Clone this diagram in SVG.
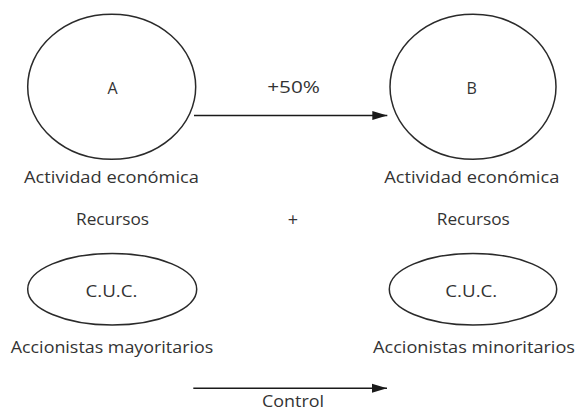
<svg xmlns="http://www.w3.org/2000/svg" width="575" height="412" viewBox="0 0 575 412">
<defs>
<style>
.shape{fill:none;stroke:#2a2a2a;stroke-width:1.5}
.lbl{font-family:"Open Sans","Liberation Sans",sans-serif;font-size:16px;fill:#333;text-anchor:middle}
.conn{stroke:#1a1a1a;stroke-width:1.6;fill:none}
</style>
<marker id="arr" markerUnits="userSpaceOnUse" markerWidth="16" markerHeight="10" refX="15" refY="5" orient="auto">
<path d="M0,0.5 L15,5 L0,9.5 Z" fill="#1a1a1a"/>
</marker>
</defs>
<rect width="575" height="412" fill="#fff"/>
<g id="nodeA">
<ellipse class="shape" cx="111.7" cy="86.8" rx="84" ry="72.5"/>
<text class="lbl" x="112.5" y="94">A</text>
<text class="lbl" x="111.5" y="183" textLength="175" lengthAdjust="spacingAndGlyphs">Actividad económica</text>
</g>
<g id="nodeB">
<ellipse class="shape" cx="473" cy="86.8" rx="83" ry="72.5"/>
<text class="lbl" x="471.7" y="94">B</text>
<text class="lbl" x="471.8" y="183" textLength="175" lengthAdjust="spacingAndGlyphs">Actividad económica</text>
</g>
<g id="recursosA">
<text class="lbl" x="112.5" y="225" textLength="73" lengthAdjust="spacingAndGlyphs">Recursos</text>
</g>
<g id="plus">
<text class="lbl" x="293" y="226" style="font-size:18px">+</text>
</g>
<g id="recursosB">
<text class="lbl" x="473.3" y="225" textLength="73" lengthAdjust="spacingAndGlyphs">Recursos</text>
</g>
<g id="cucA">
<ellipse class="shape" cx="112.2" cy="289.2" rx="84.5" ry="35.8"/>
<text class="lbl" x="111.5" y="296.5" textLength="52" lengthAdjust="spacingAndGlyphs">C.U.C.</text>
<text class="lbl" x="112" y="353.3" textLength="202.6" lengthAdjust="spacingAndGlyphs">Accionistas mayoritarios</text>
</g>
<g id="cucB">
<ellipse class="shape" cx="473" cy="289.2" rx="83.7" ry="35.8"/>
<text class="lbl" x="471.3" y="296.5" textLength="52" lengthAdjust="spacingAndGlyphs">C.U.C.</text>
<text class="lbl" x="474" y="353.3" textLength="202" lengthAdjust="spacingAndGlyphs">Accionistas minoritarios</text>
</g>
<g id="connectors">
<line class="conn" x1="194" y1="115.5" x2="387.3" y2="115.5" marker-end="url(#arr)"/>
<text class="lbl" x="293.6" y="93.3" textLength="52.7" lengthAdjust="spacingAndGlyphs">+50%</text>
<line class="conn" x1="193.3" y1="388.3" x2="387" y2="388.3" marker-end="url(#arr)"/>
<text class="lbl" x="293" y="407" textLength="62" lengthAdjust="spacingAndGlyphs">Control</text>
</g>
</svg>
